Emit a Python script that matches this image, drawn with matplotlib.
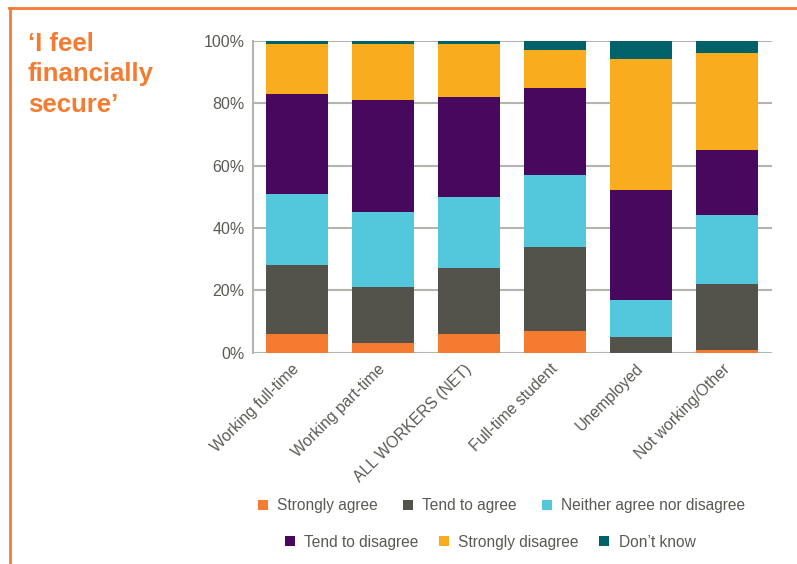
import matplotlib.pyplot as plt
from matplotlib.patches import Patch
from matplotlib.lines import Line2D
import numpy as np

plt.rcParams['font.family'] = ['Liberation Sans', 'DejaVu Sans']

groups = ['Working full-time', 'Working part-time', 'ALL WORKERS (NET)',
          'Full-time student', 'Unemployed', 'Not working/Other']
answers = ['Strongly agree', 'Tend to agree', 'Neither agree nor disagree',
           'Tend to disagree', 'Strongly disagree', 'Don\u2019t know']

strongly_agree = [6, 3, 6, 7, 0, 1]
tend_agree = [22, 18, 21, 27, 5, 21]
neither = [23, 24, 23, 23, 12, 22]
tend_disagree = [32, 36, 32, 28, 35, 21]
strongly_disagree = [16, 18, 17, 12, 42, 31]
dont_know = [1, 1, 1, 3, 6, 4]

colors = ['#F47B30', '#53534B', '#53C7DB', '#48085E', '#F9AC1E', '#006168']
orange = '#F47B30'
grey_text = '#5A5A55'
grid_col = '#B5B5AF'

series = [strongly_agree, tend_agree, neither, tend_disagree, strongly_disagree, dont_know]

fig = plt.figure(figsize=(7.97, 5.64), dpi=100)
ax = fig.add_axes([0.3174, 0.3746, 0.6512, 0.5532])

x = np.arange(len(groups))
bottom = np.zeros(len(groups))
for vals, c in zip(series, colors):
    ax.bar(x, vals, bottom=bottom, width=0.72, color=c, zorder=3)
    bottom += np.array(vals)

ax.set_ylim(0, 100)
ax.set_xlim(-0.51, 5.52)
ax.set_yticks([0, 20, 40, 60, 80, 100])
ax.set_yticklabels(['0%', '20%', '40%', '60%', '80%', '100%'])
ax.yaxis.grid(True, color=grid_col, linewidth=1.5, zorder=0)
ax.tick_params(axis='y', length=0, labelsize=11.5, labelcolor=grey_text, pad=6)
ax.tick_params(axis='x', length=0, labelsize=11.3, labelcolor=grey_text, pad=10)
ax.set_xticks(x)
ax.set_xticklabels(groups, rotation=45, ha='right', va='center', rotation_mode='anchor')
for s in ['top', 'right', 'bottom']:
    ax.spines[s].set_visible(False)
ax.spines['left'].set_color(grid_col)
ax.spines['left'].set_linewidth(1.5)

# title on the left
fig.text(0.035, 0.943, '\u2018I feel\nfinancially\nsecure\u2019', color=orange,
         fontsize=18.5, fontweight='bold', va='top', ha='left', linespacing=1.33)

# orange frame on top and left
fig.add_artist(Line2D([0.012, 0.012], [0.0, 0.986], color=orange, lw=2,
                      transform=fig.transFigure))
fig.add_artist(Line2D([0.011, 1.0], [0.986, 0.986], color=orange, lw=2,
                      transform=fig.transFigure))

# two legend rows
handles = [Patch(facecolor=c, edgecolor='none') for c in colors]
leg1 = fig.legend(handles[:3], answers[:3], loc='center', bbox_to_anchor=(0.629, 0.103),
                  ncol=3, frameon=False, fontsize=11.2, handlelength=0.65, handleheight=0.65,
                  handletextpad=0.6, columnspacing=1.6, labelcolor=grey_text)
leg2 = fig.legend(handles[3:], answers[3:], loc='center', bbox_to_anchor=(0.615, 0.039),
                  ncol=3, frameon=False, fontsize=11.2, handlelength=0.65, handleheight=0.65,
                  handletextpad=0.6, columnspacing=1.3, labelcolor=grey_text)

fig.savefig('out.png', dpi=100)
